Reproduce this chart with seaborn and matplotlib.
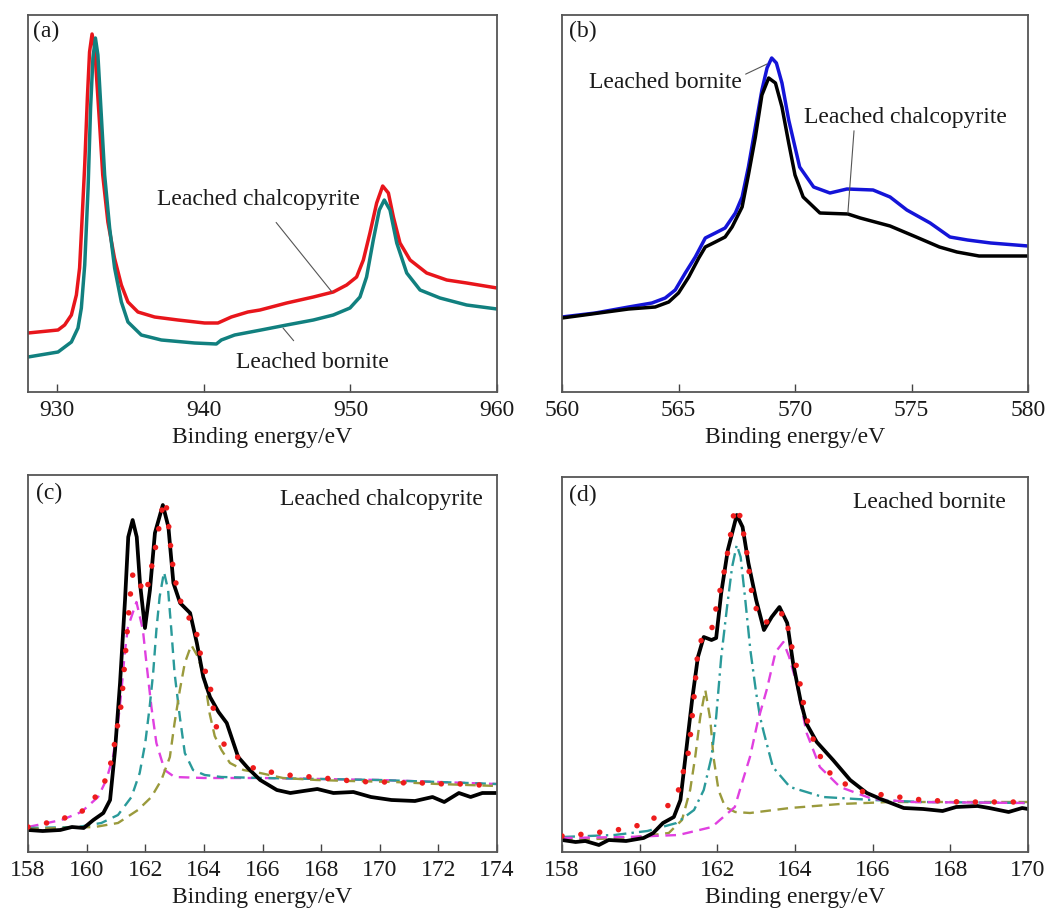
import numpy as np
import pandas as pd
import matplotlib
matplotlib.use("Agg")
import matplotlib.pyplot as plt
import seaborn as sns

# ---------------- data (intensity in arbitrary units) ----------------
# (a) Cu 2p
a_energy_cp = [928, 930.05, 930.5, 930.96, 931.3, 931.52, 931.68, 931.87, 932.05, 932.2, 932.37, 932.55,
               932.7, 932.89, 933.1, 933.45, 933.9, 934.37, 934.82, 935.5, 936.64, 938.23, 940.05,
               940.96, 941.87, 943.0, 943.83, 945.65, 947.47, 948.83, 949.74, 950.42, 950.88, 951.33,
               951.79, 952.2, 952.59, 952.93, 953.38, 954.07, 955.2, 956.57, 957.93, 960]
a_cp = [59, 62, 67, 77, 97, 124, 170, 227, 294, 340, 358, 344, 310, 267, 217, 170, 134, 107, 90, 80,
        75, 72, 69, 69, 75, 80, 82, 89, 95, 100, 107, 115, 132, 159, 189, 206, 199, 175, 149, 132,
        119, 112, 109, 104]
a_energy_bn = [928, 930.05, 930.96, 931.41, 931.64, 931.87, 932.1, 932.27, 932.43, 932.6, 932.77, 933.0,
               933.23, 933.57, 933.91, 934.37, 934.82, 935.73, 937.1, 939.37, 940.85, 941.19, 942.1,
               943.9, 945.65, 947.47, 948.83, 949.97, 950.65, 951.1, 951.56, 951.97, 952.31, 952.7,
               953.16, 953.84, 954.75, 956.11, 957.93, 960]
a_bn = [35, 40, 50, 64, 84, 127, 204, 284, 334, 354, 337, 277, 217, 164, 124, 90, 70, 57, 52, 49, 48,
        52, 57, 62, 67, 72, 77, 84, 95, 115, 152, 182, 192, 182, 149, 119, 102, 94, 87, 83]

# (b) Cu LMM
b_energy_bn = [560, 561.43, 562.86, 563.86, 564.43, 564.86, 565.29, 565.72, 566.15, 566.58, 567.0, 567.44,
               567.73, 568.0, 568.3, 568.58, 568.8, 569.0, 569.2, 569.44, 569.73, 570.0, 570.2, 570.8,
               571.5, 572.23, 573.35, 574.08, 574.8, 575.8, 576.65, 577.4, 578.4, 580]
b_bn = [75, 79, 85, 89, 94, 102, 119, 135, 154, 159, 164, 179, 195, 225, 265, 302, 324, 334, 329, 309,
        272, 245, 225, 205, 199, 203, 202, 195, 182, 169, 155, 152, 149, 146]
b_energy_cp = [560, 562.86, 564.0, 564.58, 565.0, 565.44, 565.87, 566.15, 566.58, 567.0, 567.3, 567.73,
               568.0, 568.3, 568.58, 568.87, 569.16, 569.44, 569.73, 570.0, 570.35, 571.07, 572.27,
               572.8, 574.08, 575.2, 576.2, 576.95, 577.9, 580]
b_cp = [74, 83, 85, 90, 99, 115, 134, 145, 150, 155, 165, 185, 217, 255, 297, 314, 309, 285, 249, 217,
        195, 179, 178, 174, 166, 155, 145, 140, 136, 136]

# (c) S 2p, leached chalcopyrite
c_energy_exp = [158.0, 158.5, 159.1, 159.5, 159.9, 160.23, 160.57, 160.8, 160.97, 161.14, 161.31, 161.42,
                161.57, 161.71, 161.82, 161.99, 162.16, 162.33, 162.6, 162.79, 162.96, 163.19, 163.53,
                163.76, 163.98, 164.21, 164.5, 164.78, 165.17, 165.5, 165.92, 166.49, 166.95, 167.4,
                167.87, 168.42, 169.1, 169.7, 170.4, 171.2, 171.8, 172.2, 172.7, 173.1, 173.5, 174.0]
c_exp = [22, 21, 22, 25, 24, 32, 39, 52, 102, 169, 252, 315, 332, 315, 269, 224, 262, 319, 347, 325,
         269, 249, 239, 209, 175, 155, 140, 129, 95, 84, 72, 62, 59, 61, 63, 59, 60, 55, 52, 51, 55,
         50, 59, 55, 59, 59]
c_energy_fit = [158.0, 158.63, 159.25, 159.82, 160.39, 160.73, 160.9, 161.01, 161.19, 161.3, 161.47,
                161.58, 161.75, 161.92, 162.1, 162.25, 162.38, 162.61, 162.69, 162.78, 162.91, 163.1,
                163.35, 163.7, 163.93, 164.2, 164.4, 164.7, 165.26, 165.8, 166.49, 167.1, 167.74, 168.42,
                169.05, 169.7, 170.3, 170.9, 171.5, 172.2, 172.8, 173.4, 174.0]
c_fit = [25, 29, 34, 40, 58, 77, 99, 119, 149, 189, 252, 279, 277, 258, 268, 290, 309, 349, 352, 332,
         292, 260, 239, 227, 190, 169, 127, 107, 92, 82, 79, 76, 75, 73, 71, 70, 70, 69, 69, 68, 68,
         67, 66]
c_energy_m = [158.0, 159.14, 159.82, 160.39, 160.67, 160.9, 161.07, 161.19, 161.3, 161.41, 161.7,
              161.92, 162.04, 162.21, 162.38, 162.66, 163.0, 164.0, 166.0, 168.0, 170.0, 172.0, 174.0]
c_m = [25, 32, 40, 55, 72, 95, 129, 162, 199, 225, 250, 222, 189, 145, 109, 82, 75, 74, 74, 73, 72,
       70, 68]
c_energy_t = [158.0, 159.7, 160.5, 161.07, 161.53, 161.81, 162.0, 162.15, 162.27, 162.38, 162.49,
              162.64, 162.78, 162.89, 163.0, 163.18, 163.35, 163.63, 164.03, 164.6, 166.0, 168.0,
              170.0, 172.0, 174.0]
c_t = [24, 25, 29, 37, 55, 79, 109, 145, 179, 222, 255, 280, 262, 222, 179, 135, 99, 82, 77, 75, 74,
       73, 72, 70, 68]
c_energy_o = [158.0, 160.28, 161.07, 161.75, 162.21, 162.55, 162.84, 163.0, 163.18, 163.35, 163.57,
              163.8, 164.03, 164.2, 164.37, 164.6, 164.89, 165.35, 165.92, 166.7, 167.85, 169.0,
              170.5, 172.0, 174.0]
c_o = [23, 25, 29, 42, 55, 72, 95, 129, 162, 189, 207, 195, 172, 138, 116, 102, 89, 82, 79, 74, 72,
       71, 70, 68, 66]

# (d) S 2p, leached bornite
d_energy_exp = [158.0, 158.35, 158.6, 158.95, 159.2, 159.65, 160.1, 160.35, 160.6, 160.88, 161.05,
                161.2, 161.35, 161.5, 161.65, 161.85, 161.97, 162.1, 162.27, 162.5, 162.65, 162.8,
                163.0, 163.2, 163.4, 163.6, 163.8, 163.95, 164.15, 164.3, 164.56, 164.98, 165.42,
                165.85, 166.27, 166.8, 167.3, 167.8, 168.15, 168.7, 169.0, 169.5, 169.85, 170.0]
d_exp = [12, 10, 11, 7, 12, 11, 14, 19, 29, 35, 52, 102, 152, 195, 215, 212, 214, 259, 302, 337, 325,
         289, 252, 222, 235, 245, 229, 189, 150, 128, 110, 92, 72, 59, 52, 44, 43, 41, 45, 46, 44,
         40, 44, 43]
d_energy_fit = [158.0, 158.35, 158.8, 159.25, 159.7, 160.2, 160.65, 161.0, 161.27, 161.4, 161.5,
                161.65, 161.85, 162.0, 162.15, 162.3, 162.45, 162.6, 162.75, 162.9, 163.1, 163.36,
                163.55, 163.74, 163.95, 164.08, 164.25, 164.38, 164.6, 164.9, 165.4, 165.85, 166.3,
                166.85, 167.3, 167.8, 168.25, 168.75, 169.2, 169.7, 170.0]
d_fit = [16, 17, 19, 21, 24, 29, 42, 62, 102, 155, 202, 219, 222, 250, 275, 307, 345, 335, 302, 255,
         232, 229, 237, 239, 199, 179, 142, 122, 99, 79, 65, 59, 57, 54, 52, 51, 50, 50, 50, 50, 49]
d_energy_t = [158.0, 159.35, 160.2, 160.95, 161.4, 161.65, 161.85, 161.97, 162.1, 162.25, 162.38,
              162.5, 162.6, 162.72, 162.85, 163.0, 163.1, 163.2, 163.43, 163.87, 164.72, 166.0,
              167.3, 170.0]
d_t = [15, 17, 21, 29, 42, 62, 95, 135, 195, 245, 285, 307, 295, 252, 202, 159, 135, 119, 85, 65, 55,
       52, 50, 49]
d_energy_m = [158.0, 159.7, 161.0, 161.86, 162.45, 162.58, 162.84, 163.05, 163.27, 163.5, 163.7,
              163.85, 164.04, 164.3, 164.64, 165.16, 166.0, 167.0, 170.0]
d_m = [14, 15, 17, 25, 45, 62, 95, 132, 162, 200, 210, 195, 169, 119, 85, 65, 53, 50, 49]
d_energy_o = [158.0, 159.7, 160.75, 161.09, 161.3, 161.43, 161.56, 161.69, 161.82, 161.9, 162.03,
              162.2, 162.46, 162.84, 163.87, 165.16, 166.45, 168.0, 170.0]
d_o = [12, 14, 19, 32, 62, 95, 135, 162, 132, 95, 62, 45, 40, 39, 44, 48, 50, 50, 50]

# ---------------- styling ----------------
sns.set_theme(style="white")
plt.rcParams["font.family"] = ["Liberation Serif", "DejaVu Serif"]
FS = 17
TXT = "#1a1a1a"

RED = "#e8151b"
TEAL = "#11807f"
BLUE = "#1414d8"
MAG = "#e040e0"
CYAN_D = "#2a9a9a"
OLIVE = "#9a9a3c"
DOT_RED = "#ee1c1c"

fig = plt.figure(figsize=(10.45, 9.09), dpi=100)
W, H = 1045, 909


def make_ax(l, t, r, b):
    return fig.add_axes([l / W, 1 - b / H, (r - l) / W, (b - t) / H])


ax_a = make_ax(28, 15, 497, 392)
ax_b = make_ax(562, 15, 1028, 392)
ax_c = make_ax(28, 475, 497, 852)
ax_d = make_ax(562, 477, 1028, 852)


def style(ax, xlim, ticks, ylim):
    ax.set_xlim(*xlim)
    ax.set_ylim(*ylim)
    ax.set_xticks(ticks)
    ax.set_xticklabels([str(t) for t in ticks], fontsize=FS, color=TXT)
    ax.set_yticks([])
    ax.tick_params(axis="x", direction="in", length=6, width=1.0, color="#444444", pad=6,
                   bottom=True, top=False)
    for s in ax.spines.values():
        s.set_color("#555555")
        s.set_linewidth(1.3)
    ax.set_xlabel("Binding energy/eV", fontsize=FS, color=TXT, labelpad=4)
    ax.set_ylabel("")


def line(ax, x, y, color, lw=2.5, **kw):
    sns.lineplot(x=x, y=y, ax=ax, color=color, lw=lw, estimator=None, sort=False, **kw)


def dashed(ax, x, y, color, pattern=(4.5, 2.8)):
    line(ax, x, y, color, lw=1.7, linestyle=(0, pattern))


def dotted(ax, x, y):
    line(ax, x, y, DOT_RED, lw=4.0, linestyle=(0, (0.01, 3.4)), dash_capstyle="round", zorder=5)


# (a)
line(ax_a, a_energy_cp, a_cp, RED)
line(ax_a, a_energy_bn, a_bn, TEAL)
style(ax_a, (928, 960), [930, 940, 950, 960], (0, 377))
ax_a.text(0.011, 0.985, "(a)", transform=ax_a.transAxes, ha="left", va="top", fontsize=FS, color=TXT)
ax_a.annotate("Leached chalcopyrite", xy=(948.74, 100), xytext=(943.7, 192), ha="center",
              va="center", fontsize=FS, color=TXT,
              arrowprops=dict(arrowstyle="-", color="#555555", lw=0.8, shrinkA=8, shrinkB=0))
ax_a.annotate("Leached bornite", xy=(945.4, 64), xytext=(947.4, 29), ha="center", va="center",
              fontsize=FS, color=TXT,
              arrowprops=dict(arrowstyle="-", color="#555555", lw=0.8, shrinkA=8, shrinkB=0))

# (b)
line(ax_b, b_energy_bn, b_bn, BLUE)
line(ax_b, b_energy_cp, b_cp, "black")
style(ax_b, (560, 580), [560, 565, 570, 575, 580], (0, 377))
ax_b.text(0.015, 0.985, "(b)", transform=ax_b.transAxes, ha="left", va="top", fontsize=FS, color=TXT)
ax_b.annotate("Leached bornite", xy=(568.8, 328), xytext=(564.46, 310), ha="center", va="center",
              fontsize=FS, color=TXT,
              arrowprops=dict(arrowstyle="-", color="#555555", lw=0.8, shrinkA=0, shrinkB=0,
                              relpos=(1.0, 0.8)))
ax_b.annotate("Leached chalcopyrite", xy=(572.27, 179), xytext=(574.72, 275), ha="center",
              va="center", fontsize=FS, color=TXT,
              arrowprops=dict(arrowstyle="-", color="#555555", lw=0.8, shrinkA=0, shrinkB=0,
                              relpos=(0.25, 0.0)))

# (c)
dashed(ax_c, c_energy_m, c_m, MAG)
dashed(ax_c, c_energy_t, c_t, CYAN_D)
dashed(ax_c, c_energy_o, c_o, OLIVE)
line(ax_c, c_energy_exp, c_exp, "black", lw=2.7)
dotted(ax_c, c_energy_fit, c_fit)
style(ax_c, (158, 174), list(range(158, 175, 2)), (0, 377))
ax_c.text(0.017, 0.979, "(c)", transform=ax_c.transAxes, ha="left", va="top", fontsize=FS, color=TXT)
ax_c.text(0.970, 0.934, "Leached chalcopyrite", transform=ax_c.transAxes, ha="right",
          va="center", fontsize=FS, color=TXT)

# (d)
dashed(ax_d, d_energy_o, d_o, OLIVE)
line(ax_d, d_energy_t, d_t, CYAN_D, lw=1.7, linestyle=(0, (5.5, 2.2, 1, 2.2)))
dashed(ax_d, d_energy_m, d_m, MAG)
line(ax_d, d_energy_exp, d_exp, "black", lw=2.7)
dotted(ax_d, d_energy_fit, d_fit)
style(ax_d, (158, 170), list(range(158, 171, 2)), (0, 375))
ax_d.text(0.015, 0.979, "(d)", transform=ax_d.transAxes, ha="left", va="top", fontsize=FS, color=TXT)
ax_d.text(0.953, 0.931, "Leached bornite", transform=ax_d.transAxes, ha="right", va="center",
          fontsize=FS, color=TXT)

for ax in (ax_a, ax_b, ax_c, ax_d):
    leg = ax.get_legend()
    if leg is not None:
        leg.remove()

fig.savefig("out.png", dpi=100)
